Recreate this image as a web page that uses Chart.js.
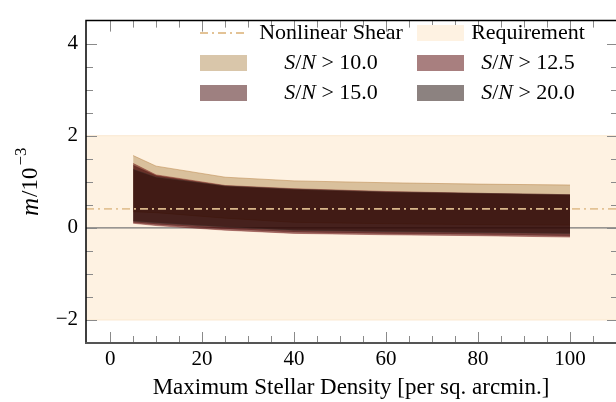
<!DOCTYPE html>
<html>
<head>
<meta charset="utf-8">
<script src="https://cdn.jsdelivr.net/npm/chart.js@4.4.0/dist/chart.umd.min.js"></script>
<style>
  html, body { margin: 0; padding: 0; background: #fff; }
</style>
</head>
<body>
<canvas id="mChart" width="616" height="402"></canvas>
<script>
// maximum stellar density cuts [per sq. arcmin]
var densities = [5, 10, 25, 40, 60, 80, 100];

// m / 1e-3 band edges for each S/N cut
var sn10Upper  = [1.57, 1.34, 1.10, 1.02, 0.98, 0.95, 0.93];
var sn10Lower  = [0.35, 0.33, 0.21, 0.12, 0.09, 0.07, 0.06];
var sn125Upper = [1.40, 1.15, 0.92, 0.85, 0.79, 0.75, 0.72];
var sn125Lower = [0.10, 0.05, -0.05, -0.12, -0.15, -0.17, -0.20];
var sn15Upper  = [1.36, 1.13, 0.90, 0.83, 0.77, 0.74, 0.71];
var sn15Lower  = [0.12, 0.08, -0.02, -0.09, -0.12, -0.14, -0.17];
var sn20Upper  = [1.27, 1.10, 0.91, 0.84, 0.78, 0.75, 0.72];
var sn20Lower  = [0.15, 0.11, 0.02, -0.05, -0.08, -0.10, -0.12];

var snCuts = ['10.0', '12.5', '15.0', '20.0'];
var requirement = [-2, 2];
var nonlinearShear = 0.41;

var xLimits = [-5.25, 110];
var yLimits = [-2.5, 4.5];
var xTickLabels = [0, 20, 40, 60, 80, 100];
var yTickLabels = [-2, 0, 2, 4];

var serif = "'Liberation Serif', 'Times New Roman', serif";
var reqFill = '#fef2e2';
var shearColor = 'rgba(226,192,144,0.95)';
var bandFills = ['rgba(180,142,86,0.5)', 'rgba(82,0,0,0.5)', 'rgba(61,1,1,0.5)', 'rgba(25,5,1,0.5)'];
var bandLines = ['rgba(190,140,80,0.7)', 'rgba(120,20,20,0.5)', 'rgba(90,20,20,0.4)', 'rgba(60,50,45,0.5)'];

function pts(xs, ys) {
    return xs.map(function (x, i) { return { x: x, y: ys[i] }; });
}
function fmt(v) {
    return v < 0 ? '\u2212' + Math.abs(v) : String(v);
}

function band(upper, lower, i, order) {
    return [
        { data: pts(densities, upper), fill: '+1', backgroundColor: bandFills[i],
          borderColor: bandLines[i], borderWidth: 0.8, order: order },
        { data: pts(densities, lower), fill: false,
          borderColor: bandLines[i], borderWidth: 0.8, order: order - 1 }
    ];
}

var datasets = [
    { data: pts(xLimits, [requirement[1], requirement[1]]), fill: '+1', backgroundColor: reqFill,
      borderColor: '#fae8d0', borderWidth: 1, order: 30 },
    { data: pts(xLimits, [requirement[0], requirement[0]]), fill: false,
      borderColor: '#fae8d0', borderWidth: 1, order: 29 },
    { data: pts(xLimits, [0, 0]), fill: false, borderColor: '#777', borderWidth: 1.3, order: 28 }
]
    .concat(band(sn10Upper, sn10Lower, 0, 20))
    .concat(band(sn125Upper, sn125Lower, 1, 18))
    .concat(band(sn15Upper, sn15Lower, 2, 16))
    .concat(band(sn20Upper, sn20Lower, 3, 14))
    .concat([{ data: pts(xLimits, [nonlinearShear, nonlinearShear]), fill: false,
               borderColor: shearColor, borderWidth: 1.8, borderDash: [8, 4, 2, 4], order: 0 }]);

// inward ticks, frame, legend and y title
var decorations = {
    id: 'decorations',
    afterDraw: function (chart) {
        var ctx = chart.ctx, a = chart.chartArea;
        var xs = chart.scales.x, ys = chart.scales.y;
        ctx.save();
        ctx.strokeStyle = '#8a8a8a';
        ctx.lineWidth = 1;
        ctx.beginPath();
        for (var v = 0; v <= xLimits[1]; v += 5) {
            var px = Math.round(xs.getPixelForValue(v)) + 0.5;
            var len = (v % 20 === 0) ? 11 : 7;
            ctx.moveTo(px, a.bottom); ctx.lineTo(px, a.bottom - len);
            ctx.moveTo(px, a.top); ctx.lineTo(px, a.top + len);
        }
        for (var w = -2; w <= 4.01; w += 0.5) {
            var py = Math.round(ys.getPixelForValue(w)) + 0.5;
            var l2 = (Math.abs(w % 2) < 0.01) ? 11 : 7;
            ctx.moveTo(a.left, py); ctx.lineTo(a.left + l2, py);
            ctx.moveTo(a.right + 2, py); ctx.lineTo(a.right + 2 - l2, py);
        }
        ctx.stroke();

        // frame
        ctx.strokeStyle = '#000';
        ctx.lineWidth = 1.5;
        ctx.beginPath();
        ctx.moveTo(a.left, a.bottom); ctx.lineTo(a.left, a.top); ctx.lineTo(a.right + 2, a.top);
        ctx.stroke();
        ctx.strokeStyle = '#555';
        ctx.lineWidth = 2;
        ctx.beginPath();
        ctx.moveTo(a.left - 1, a.bottom); ctx.lineTo(a.right, a.bottom);
        ctx.stroke();

        // legend
        var colX = [200, 417], colMid = [331, 528], rowY = [33, 63, 93];
        var lf = '22px ' + serif;
        ctx.textBaseline = 'middle';
        ctx.fillStyle = '#000';
        // row 1
        ctx.strokeStyle = shearColor;
        ctx.lineWidth = 1.8;
        ctx.setLineDash([8, 4, 2, 4]);
        ctx.beginPath();
        ctx.moveTo(colX[0], rowY[0]); ctx.lineTo(colX[0] + 47, rowY[0]);
        ctx.stroke();
        ctx.setLineDash([]);
        ctx.fillStyle = reqFill;
        ctx.fillRect(colX[1], rowY[0] - 8, 47, 16);
        ctx.fillStyle = '#000';
        ctx.font = lf;
        ctx.textAlign = 'center';
        ctx.fillText('Nonlinear Shear', colMid[0], rowY[0]);
        ctx.fillText('Requirement', colMid[1], rowY[0]);
        // S/N rows
        for (var k = 0; k < snCuts.length; k++) {
            var col = k % 2, row = 1 + Math.floor(k / 2);
            ctx.fillStyle = bandFills[k];
            ctx.fillRect(colX[col], rowY[row] - 8, 47, 16);
            var parts = [['S', true], ['/', false], ['N', true], [' > ' + snCuts[k], false]];
            var total = 0;
            parts.forEach(function (p) {
                ctx.font = (p[1] ? 'italic ' : '') + lf;
                total += ctx.measureText(p[0]).width;
            });
            var x0 = colMid[col] - total / 2;
            ctx.fillStyle = '#000';
            ctx.textAlign = 'left';
            parts.forEach(function (p) {
                ctx.font = (p[1] ? 'italic ' : '') + lf;
                ctx.fillText(p[0], x0, rowY[row]);
                x0 += ctx.measureText(p[0]).width;
            });
        }

        // y axis title: m/10^-3
        ctx.translate(31, (a.top + a.bottom) / 2);
        ctx.rotate(-Math.PI / 2);
        ctx.font = 'italic 25px ' + serif;
        var wm = ctx.measureText('m').width;
        ctx.font = '23px ' + serif;
        var w10 = ctx.measureText('/10').width;
        ctx.font = '17px ' + serif;
        var ws = ctx.measureText('\u22123').width;
        var sx = -(wm + w10 + ws + 3) / 2;
        ctx.textAlign = 'left';
        ctx.font = 'italic 25px ' + serif;
        ctx.fillText('m', sx, 0);
        ctx.font = '23px ' + serif;
        ctx.fillText('/10', sx + wm + 1, 0);
        ctx.font = '17px ' + serif;
        ctx.fillText('\u22123', sx + wm + w10 + 3, -9);
        ctx.restore();
    }
};

Chart.defaults.font.family = serif;
Chart.defaults.font.size = 21;
Chart.defaults.color = '#000';

new Chart(document.getElementById('mChart').getContext('2d'), {
    type: 'line',
    data: { datasets: datasets },
    options: {
        responsive: false,
        animation: false,
        layout: { padding: { top: 6, right: 0, left: 0, bottom: 0 } },
        elements: { point: { radius: 0 }, line: { tension: 0 } },
        plugins: { legend: { display: false }, tooltip: { enabled: false } },
        scales: {
            x: {
                type: 'linear',
                min: xLimits[0],
                max: xLimits[1],
                afterBuildTicks: function (s) { s.ticks = xTickLabels.map(function (v) { return { value: v }; }); },
                afterFit: function (s) { s.height = 59; },
                grid: { display: false, drawTicks: false },
                border: { display: false },
                ticks: { padding: 4, maxRotation: 0, autoSkip: false, callback: function (v) { return fmt(v); } },
                title: { display: true, text: 'Maximum Stellar Density [per sq. arcmin.]',
                         font: { size: 23 }, padding: { top: 0, bottom: 0 } }
            },
            y: {
                type: 'linear',
                min: yLimits[0],
                max: yLimits[1],
                afterBuildTicks: function (s) { s.ticks = yTickLabels.map(function (v) { return { value: v }; }); },
                afterFit: function (s) { s.width = 86; },
                grid: { display: false, drawTicks: false },
                border: { display: false },
                ticks: { padding: 8, autoSkip: false, callback: function (v) { return fmt(v); } }
            }
        }
    },
    plugins: [decorations]
});
</script>
</body>
</html>
